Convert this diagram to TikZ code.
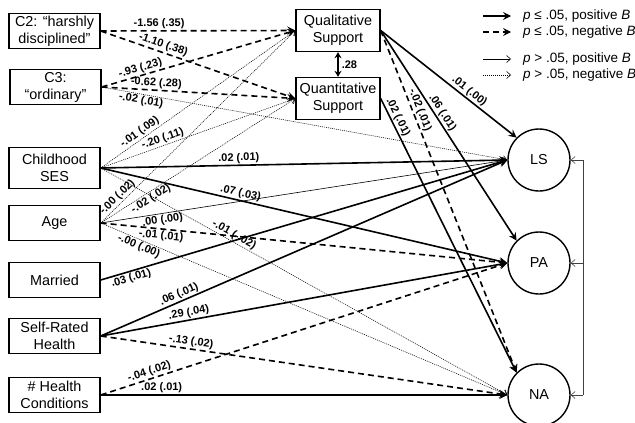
\documentclass[tikz,border=0pt]{standalone}
\usepackage{fontspec}
\setmainfont{Liberation Sans}
\usetikzlibrary{arrows.meta}
\begin{document}
\begin{tikzpicture}[x=1pt,y=-1pt,
  box/.style={draw, line width=1.4pt, minimum width=91pt, minimum height=35pt, align=center, inner sep=1pt, font=\fontsize{14.4}{17}\selectfont},
  mbox/.style={box, minimum width=84pt, minimum height=42pt},
  circ/.style={draw, circle, line width=1.4pt, minimum size=62pt, inner sep=0pt, font=\fontsize{14.4}{17}\selectfont},
  sigpos/.style={line width=1.6pt, -{Stealth[length=8pt,width=8pt,inset=3pt]}},
  signeg/.style={sigpos, dash pattern=on 6pt off 4pt},
  nspos/.style={line width=0.6pt, -{Straight Barb[length=4pt,width=7pt]}},
  nsneg/.style={nspos, line width=0.55pt, dash pattern=on 1pt off 1pt},
  lbl/.style={font=\bfseries\fontsize{11}{12}\selectfont, sloped, inner sep=1.2pt},
  fbline/.style={line width=0.6pt, draw=black!75},
  legtxt/.style={anchor=west, inner sep=0pt, font=\fontsize{13.5}{15}\selectfont},
]
\useasboundingbox (0,0) rectangle (635,423);

% left column
\node[box] (c2) at (54.5,31) {C2: “harshly\\disciplined”};
\node[box] (c3) at (55.5,87) {C3:\\“ordinary”};
\node[box, minimum height=41pt] (ses) at (54.5,168) {Childhood\\SES};
\node[box] (age) at (54.5,223) {Age};
\node[box] (mar) at (54.5,280) {Married};
\node[box] (srh) at (54.5,336) {Self-Rated\\Health};
\node[box] (hc) at (54.5,395) {\# Health\\Conditions};

% mediators
\node[mbox] (qual) at (338,30.5) {Qualitative\\Support};
\node[mbox] (quant) at (338,98.5) {Quantitative\\Support};

% outcomes
\node[circ] (ls) at (539,160) {LS};
\node[circ] (pa) at (539,263) {PA};
\node[circ] (na) at (539,395) {NA};

% C2, C3
\draw[signeg] (c2.east) -- node[lbl, above, pos=0.30] {-1.56 (.35)} (qual.west);
\draw[signeg] (c2.east) -- node[lbl, above, pos=0.31] {-1.10 (.38)} (quant.west);
\draw[signeg] (c3.east) -- node[lbl, above, pos=0.21] {-.93 (.23)} (qual.west);
\draw[signeg] (c3.east) -- node[lbl, above, pos=0.28] {-0.62 (.28)} (quant.west);
\draw[nsneg] (c3.east) -- node[lbl, below, pos=0.10] {-.02 (.01)} (ls.west);

% Childhood SES
\draw[nsneg] (ses.east) -- node[lbl, above, pos=0.22] {-.01 (.09)} (qual.west);
\draw[nsneg] (ses.east) -- node[lbl, above, pos=0.33] {-.20 (.11)} (quant.west);
\draw[sigpos] (ses.east) -- node[lbl, above, pos=0.34] {.02 (.01)} (ls.west);
\draw[sigpos] (ses.east) -- node[lbl, above, pos=0.34] {.07 (.03)} (pa.west);
\draw[nsneg] (ses.east) -- node[lbl, above, pos=0.32] {-.01 (-.02)} (na.west);

% Age
\draw[nsneg] (age.east) -- node[lbl, above, pos=0.11] {-.00 (.02)} (qual.west);
\draw[nsneg] (age.east) -- node[lbl, below, pos=0.24] {-.02 (.02)} (quant.west);
\draw[nspos] (age.east) -- node[lbl, below, pos=0.15] {.00 (.00)} (ls.west);
\draw[signeg] (age.east) -- node[lbl, below, pos=0.15] {-.01 (.01)} (pa.west);
\draw[nsneg] (age.east) -- node[lbl, below, pos=0.10] {-.00 (.00)} (na.west);

% Married
\draw[sigpos] (mar.east) -- node[lbl, below, pos=0.07] {.03 (.01)} (ls.west);

% Self-rated health
\draw[sigpos] (srh.east) -- node[lbl, above, pos=0.20] {.06 (.01)} (ls.west);
\draw[sigpos] (srh.east) -- node[lbl, above, pos=0.22] {.29 (.04)} (pa.west);
\draw[signeg] (srh.east) -- node[lbl, above, pos=0.22] {-.13 (.02)} (na.west);

% Health conditions
\draw[signeg] (hc.east) -- node[lbl, above, pos=0.125] {-.04 (.02)} (pa.west);
\draw[sigpos] (hc.east) -- node[lbl, above, pos=0.15] {.02 (.01)} (na.west);

% mediators to outcomes
\draw[sigpos] (qual.east) -- node[lbl, above, pos=0.62] {.01 (.00)} (ls.135);
\draw[sigpos] (qual.east) -- node[lbl, above, pos=0.41] {.06 (.01)} (pa.135);
\draw[signeg] (qual.east) -- node[lbl, above, pos=0.24] {-.02 (.01)} (na.135);
\draw[sigpos] (quant.east) -- node[lbl, above, pos=0.08] {.02 (.01)} (na.135);

% covariance between mediators
\draw[line width=1.6pt, {Stealth[length=6pt,width=7pt,inset=2pt]}-{Stealth[length=6pt,width=7pt,inset=2pt]}]
  (qual.south) -- node[right, inner sep=3pt, font=\bfseries\fontsize{11}{12}\selectfont] {.28} (quant.north);

% outcome covariance bracket
\coordinate (fb) at (583,0);
\draw[fbline] (ls.east -| fb) -- (na.east -| fb);
\foreach \n in {ls,pa,na}
  \draw[fbline, -{Straight Barb[length=4pt,width=7pt]}] (\n.east -| fb) -- (\n.east);

% legend
\coordinate (la1) at (483,16); \coordinate (lb1) at (511,16);
\coordinate (la2) at (483,32); \coordinate (lb2) at (511,32);
\coordinate (la3) at (483,59); \coordinate (lb3) at (511,59);
\coordinate (la4) at (483,75); \coordinate (lb4) at (511,75);
\draw[sigpos] (la1) -- (lb1);
\draw[signeg] (la2) -- (lb2);
\draw[nspos] (la3) -- (lb3);
\draw[nsneg] (la4) -- (lb4);
\node[legtxt] (lt1) at (523,16) {\textit{p} ≤ .05, positive \textit{B}};
\node[legtxt] (lt2) at (523,32) {\textit{p} ≤ .05, negative \textit{B}};
\node[legtxt] (lt3) at (523,59) {\textit{p} > .05, positive \textit{B}};
\node[legtxt] (lt4) at (523,75) {\textit{p} > .05, negative \textit{B}};
\end{tikzpicture}
\end{document}
